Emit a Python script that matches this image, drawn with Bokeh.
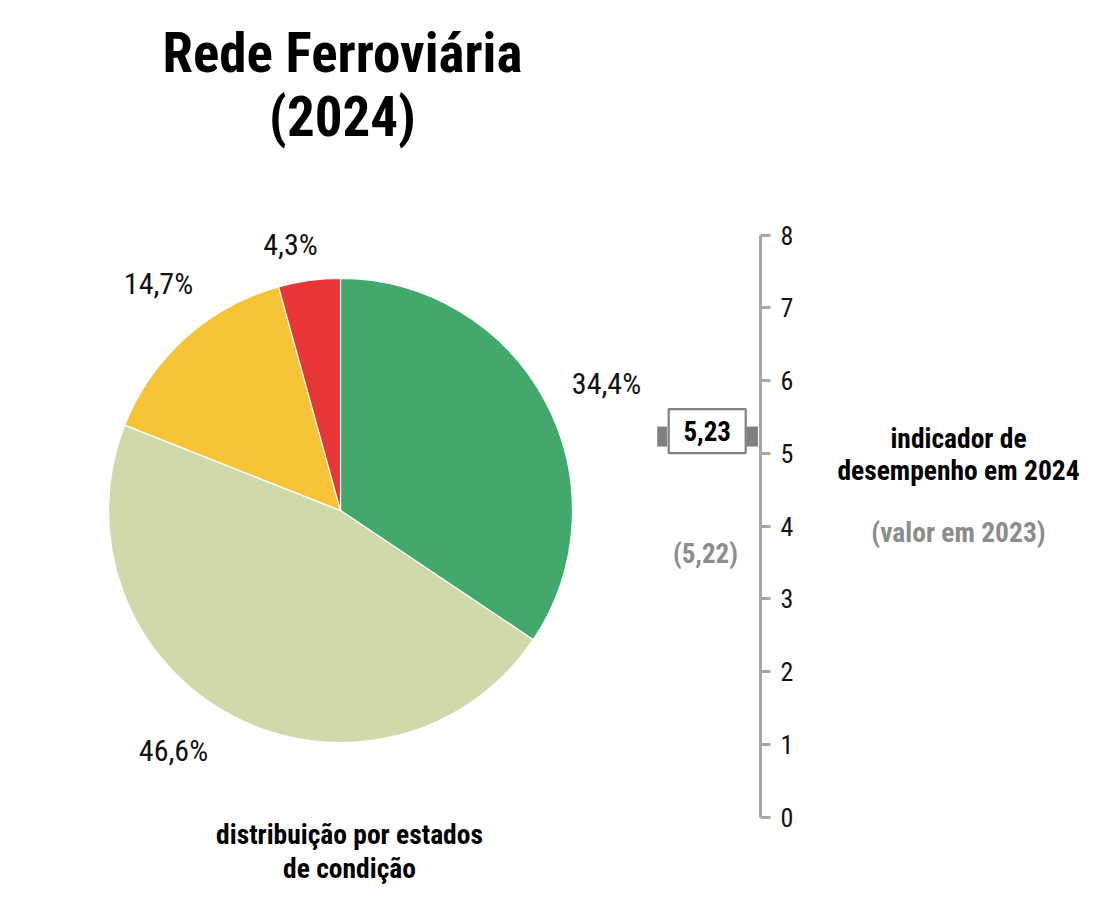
import numpy as np
from bokeh.plotting import figure
from bokeh.models import Range1d, LinearAxis, FixedTicker, ColumnDataSource
from bokeh.core.properties import value
from bokeh.embed import file_html
from bokeh.resources import INLINE

# ---- data ----
categories = ["Bom", "Razoável", "Medíocre", "Mau"]
shares = [34.4, 46.6, 14.7, 4.3]
share_labels = ["34,4%", "46,6%", "14,7%", "4,3%"]
colors = ["#43A86B", "#D0D9AA", "#F8C437", "#E83535"]
score_2024 = 5.23
score_2024_label = "5,23"
score_2023_label = "(5,22)"
score_ticks = [0, 1, 2, 3, 4, 5, 6, 7, 8]
title_lines = ["Rede Ferroviária", "(2024)"]

FONT = "Roboto Condensed"
W, H = 1098, 889

def X(px):
    return px

def Y(py):
    return H - py

p = figure(width=W, height=H, output_backend="svg", toolbar_location=None,
           x_range=Range1d(0, W), y_range=Range1d(0, H),
           min_border=0, min_border_left=0, min_border_right=0,
           min_border_top=0, min_border_bottom=0)
p.axis.visible = False
p.grid.visible = False
p.outline_line_color = None
p.background_fill_color = "white"
p.border_fill_color = "white"

# ---- pie ----
fr = np.array(shares) / sum(shares)
cum = np.concatenate([[0], np.cumsum(fr)])
start = np.pi / 2 - cum[:-1] * 2 * np.pi
end = np.pi / 2 - cum[1:] * 2 * np.pi
pie_src = ColumnDataSource(dict(start=start, end=end, color=colors, cat=categories))
p.wedge(x=X(340), y=Y(510), radius=232, radius_units="screen",
        start_angle="start", end_angle="end", direction="clock",
        fill_color="color", line_color="white", line_width=1.2, source=pie_src)

label_pos = [(606, 383), (173, 750), (158, 283), (290, 244)]
p.text(x=[X(a) for a, b in label_pos], y=[Y(b) for a, b in label_pos], text=share_labels,
       text_font=value(FONT), text_font_size="30px", text_color="#111111",
       text_align="center", text_baseline="middle")

# ---- title ----
p.text(x=[X(342), X(342)], y=[Y(52), Y(116)], text=title_lines,
       text_font=value(FONT), text_font_style="bold", text_font_size="55px",
       text_color="#000000", text_align="center", text_baseline="middle")

# ---- subtitle under pie ----
p.text(x=[X(349), X(349)], y=[Y(834), Y(868)],
       text=["distribuição por estados", "de condição"],
       text_font=value(FONT), text_font_style="bold", text_font_size="27.5px",
       text_color="#000000", text_align="center", text_baseline="middle")

# ---- score axis ----
y0, y8 = Y(816.7), Y(234.5)
per = (y8 - y0) / 8.0
p.extra_y_ranges = {"score": Range1d(-y0 / per, (H - y0) / per)}
ax = LinearAxis(y_range_name="score", fixed_location=X(760), bounds=(0, 8),
                ticker=FixedTicker(ticks=score_ticks))
ax.axis_line_color = "#A6A6A6"
ax.axis_line_width = 3
ax.major_tick_line_color = "#A6A6A6"
ax.major_tick_line_width = 3
ax.major_tick_out = 10
ax.major_tick_in = 0
ax.minor_tick_line_color = None
ax.major_label_text_font = FONT
ax.major_label_text_font_size = "26px"
ax.major_label_text_color = "#111111"
ax.major_label_standoff = 10
p.add_layout(ax, "right")

# marker at 2024 score (box drawn slightly above the tabs, as in the original)
box_lift = 5.5 / per
p.rect(x=[X(661.7)], y=[score_2024], width=10, height=20, width_units="screen",
       height_units="screen", fill_color="#808080", line_color=None, y_range_name="score")
p.rect(x=[X(751.7)], y=[score_2024], width=11.5, height=20, width_units="screen",
       height_units="screen", fill_color="#808080", line_color=None, y_range_name="score")
p.rect(x=[X(706.7)], y=[score_2024 + box_lift], width=77, height=44, width_units="screen",
       height_units="screen", fill_color="white", line_color="#808080", line_width=2.2,
       y_range_name="score")
p.text(x=[X(706.7)], y=[score_2024 + box_lift], text=[score_2024_label], y_range_name="score",
       text_font=value(FONT), text_font_style="bold", text_font_size="27px",
       text_color="#000000", text_align="center", text_baseline="middle")

# 2023 value
p.text(x=[X(705)], y=[Y(553)], text=[score_2023_label],
       text_font=value(FONT), text_font_style="bold", text_font_size="27px",
       text_color="#8C8C8C", text_align="center", text_baseline="middle")

# right side legend text
p.text(x=[X(958), X(958)], y=[Y(438), Y(470)], text=["indicador de", "desempenho em 2024"],
       text_font=value(FONT), text_font_style="bold", text_font_size="27.5px",
       text_color="#000000", text_align="center", text_baseline="middle")
p.text(x=[X(958)], y=[Y(532)], text=["(valor em 2023)"],
       text_font=value(FONT), text_font_style="bold", text_font_size="27.5px",
       text_color="#8C8C8C", text_align="center", text_baseline="middle")

open("out.html", "w").write(file_html(p, INLINE))
